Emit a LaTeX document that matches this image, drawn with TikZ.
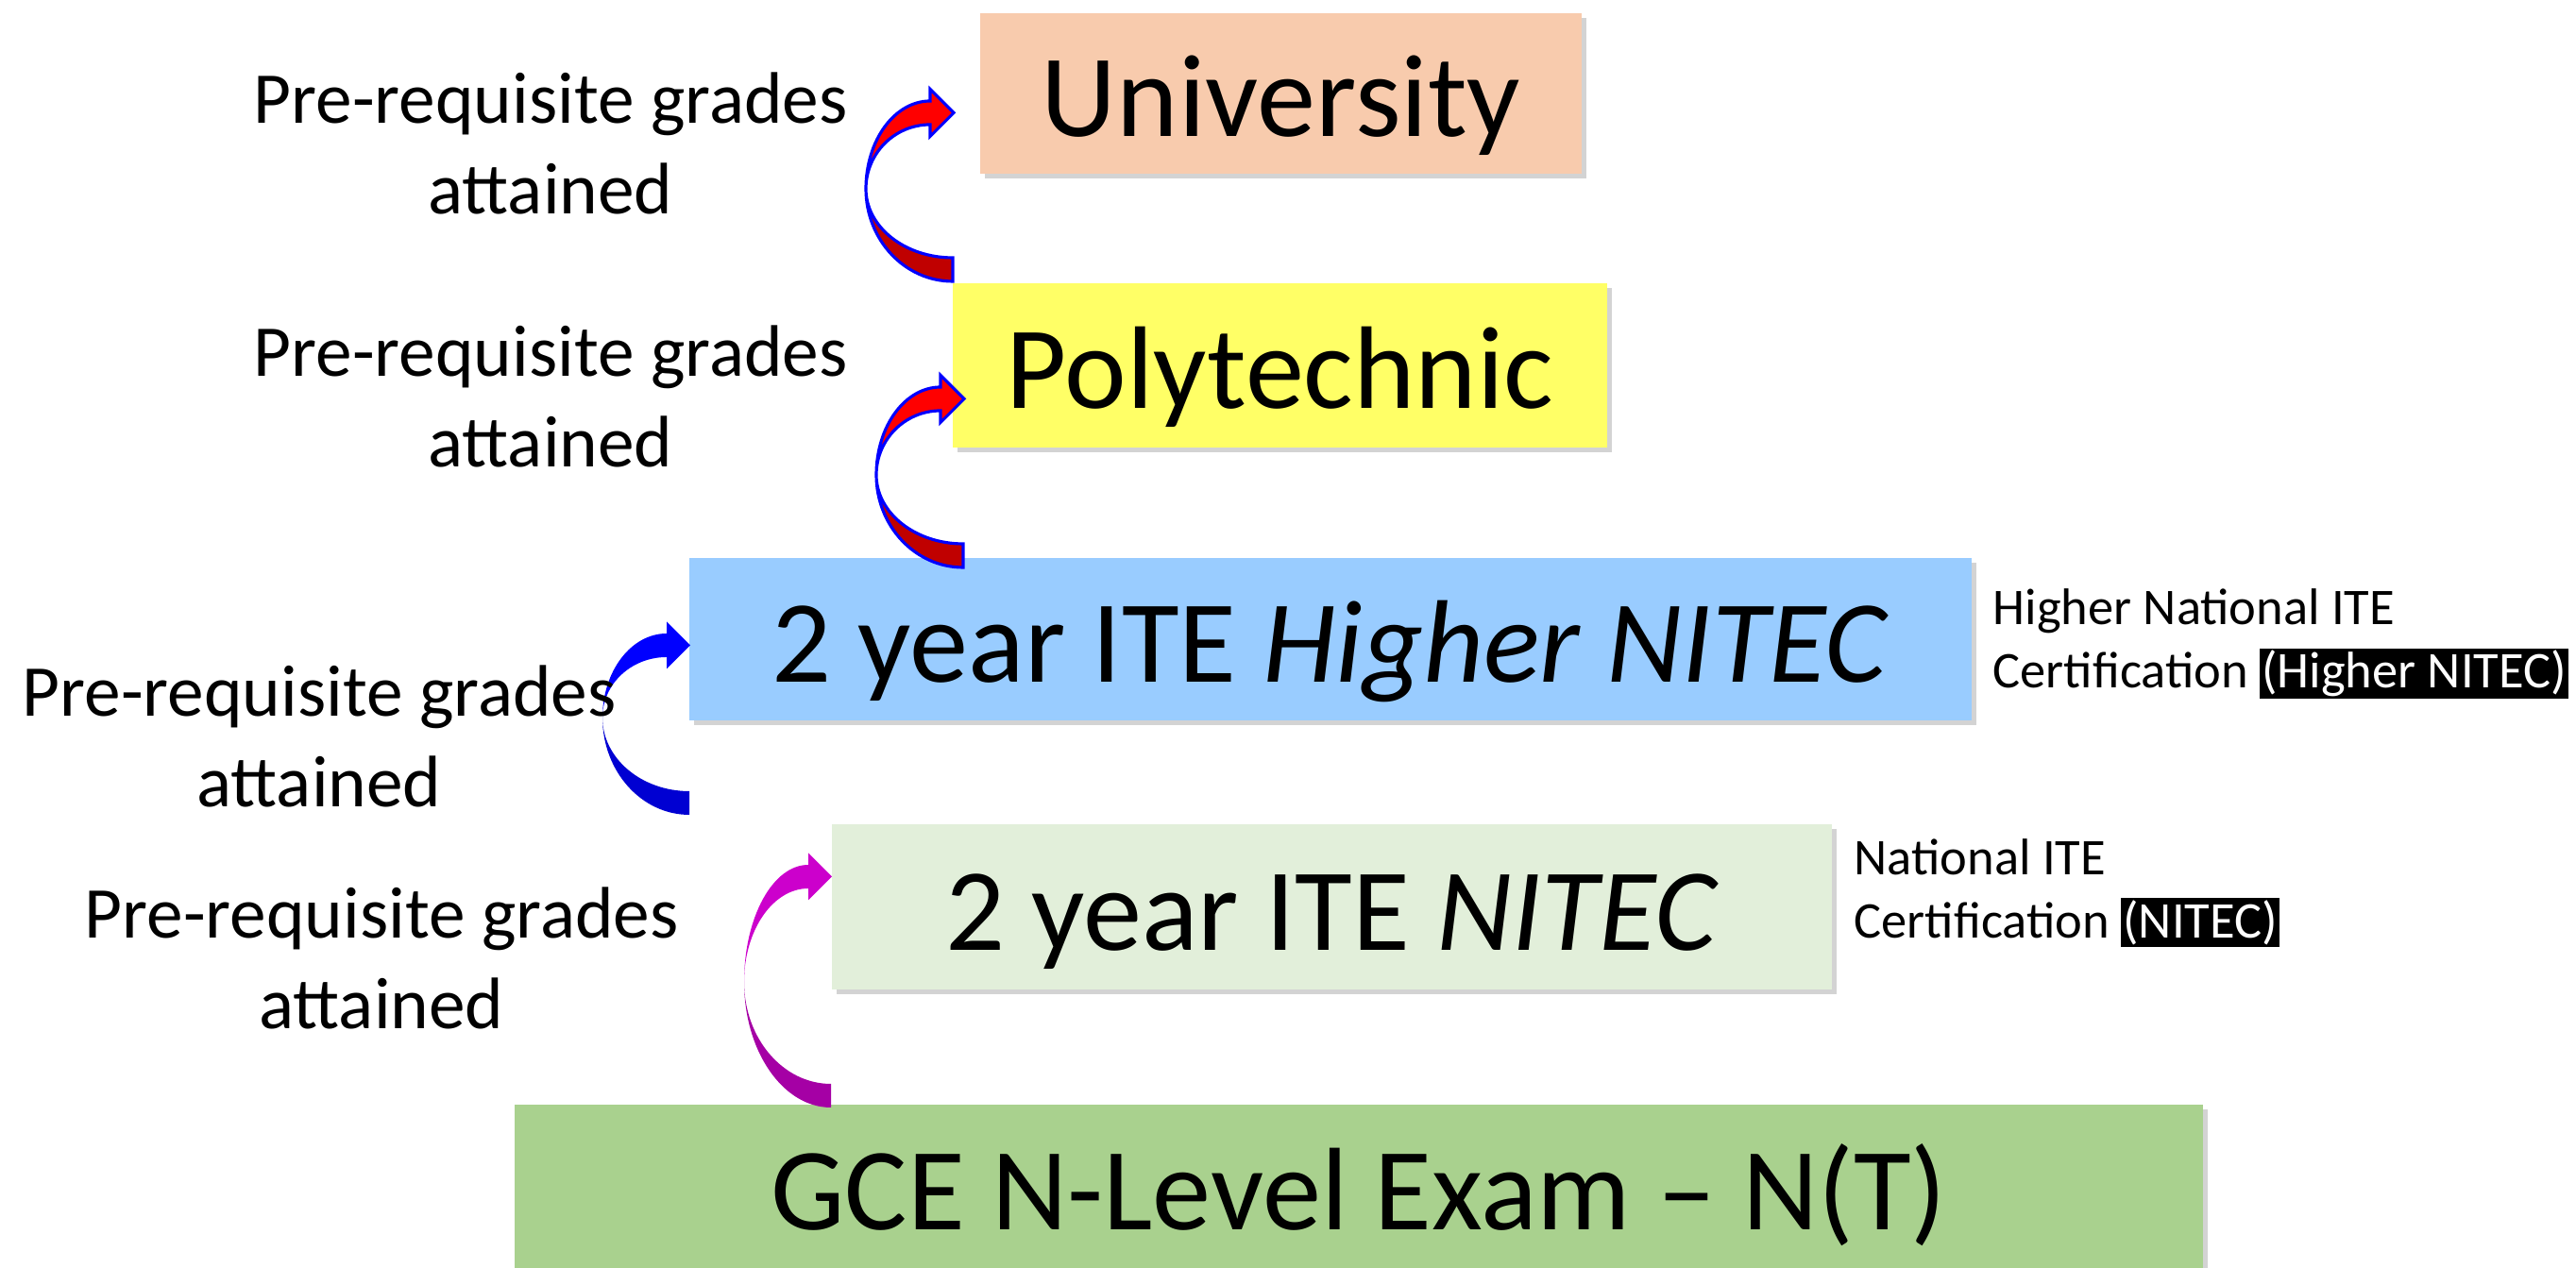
\documentclass[tikz,border=0pt]{standalone}
\usepackage{fontspec}
\setmainfont{Carlito}
\usetikzlibrary{shapes,arrows,positioning,shadows}

\definecolor{uniFill}{HTML}{F8CBAD}
\definecolor{polyFill}{HTML}{FFFF66}
\definecolor{higherFill}{HTML}{99CCFF}
\definecolor{nitecFill}{HTML}{E2EFDA}
\definecolor{gceFill}{HTML}{A9D18E}

\tikzstyle{level} = [rectangle, inner sep=0pt, text centered,
    font=\fontsize{35.4}{43}\selectfont, text height=33pt, text depth=7pt,
    drop shadow={shadow xshift=.05cm, shadow yshift=-.05cm, opacity=.35}]
\tikzstyle{prereq} = [align=center, inner sep=0pt, font=\fontsize{22}{27.5}\selectfont]
\tikzstyle{cert} = [align=left, anchor=west, inner sep=0pt, font=\fontsize{15.5}{19}\selectfont]
\tikzstyle{redFront} = [fill={rgb,255:red,255;green,0;blue,0}, draw=blue, line width=.9pt]
\tikzstyle{redBack} = [fill={rgb,255:red,192;green,0;blue,0}, draw=blue, line width=.9pt]
\tikzstyle{blueFront} = [fill={rgb,255:red,0;green,0;blue,255}]
\tikzstyle{blueBack} = [fill={rgb,255:red,0;green,0;blue,210}]
\tikzstyle{pinkFront} = [fill={rgb,255:red,204;green,0;blue,204}]
\tikzstyle{pinkBack} = [fill={rgb,255:red,165;green,0;blue,165}]

\newcommand{\hilite}[1]{{\setlength{\fboxsep}{.6pt}\colorbox{black}{\textcolor{white}{#1}}}}

% twisted ribbon arrow: #1 bend point, #2 upper radius, #3 lower radius, #4 front, #5 back
\newcommand{\ribbon}[5]{%
  \path[#5] (#1) arc[start angle=180, end angle=270, x radius=.92, y radius=#3]
    -- ++(0,.25) arc[start angle=270, end angle=180, x radius=.92, y radius=#3-.25] -- cycle;
  \path[#4] (#1) arc[start angle=180, end angle=90, x radius=.68, y radius=#2+.125]
    -- ++(0,.125) -- ++(.25,-.25) -- ++(-.25,-.25) -- ++(0,.125)
    arc[start angle=90, end angle=180, x radius=.68, y radius=#2-.125] -- cycle;
}

\begin{document}
\begin{tikzpicture}
    \useasboundingbox (0,0) rectangle (27.28,13.43);

    \node[level, fill=gceFill, minimum width=17.88cm, minimum height=1.73cm] (gce) at (14.39,0.865) {GCE N-Level Exam -- N(T)};
    \node[level, fill=nitecFill, minimum width=10.59cm, minimum height=1.75cm] (nitec) at (14.105,3.825) {2 year ITE \textit{NITEC}};
    \node[level, fill=higherFill, minimum width=13.58cm, minimum height=1.72cm] (higher) at (14.09,6.66) {2 year ITE \textit{Higher NITEC}};
    \node[level, fill=polyFill, minimum width=6.93cm, minimum height=1.74cm] (poly) at (13.555,9.56) {Polytechnic};
    \node[level, fill=uniFill, minimum width=6.37cm, minimum height=1.70cm] (uni) at (13.565,12.44) {University};

    % bends of the ribbons
    \coordinate (bendUni) at (9.17,11.43);
    \coordinate (bendPoly) at (9.28,8.40);
    \coordinate (bendHigher) at (6.38,5.83);
    \coordinate (bendNitec) at (7.88,3.03);

    \ribbon{bendUni}{.805}{.98}{redFront}{redBack}
    \ribbon{bendPoly}{.805}{.98}{redFront}{redBack}
    \ribbon{bendHigher}{.765}{1.03}{blueFront}{blueBack}
    \ribbon{bendNitec}{1.115}{1.33}{pinkFront}{pinkBack}

    \node[prereq] (toUni) at (5.83,11.91) {Pre-requisite grades\\attained};
    \node[prereq] (toPoly) at (5.83,9.23) {Pre-requisite grades\\attained};
    \node[prereq] (toHigher) at (3.38,5.63) {Pre-requisite grades\\attained};
    \node[prereq] (toNitec) at (4.04,3.28) {Pre-requisite grades\\attained};

    \node[cert] (higherCert) at (21.10,6.61) {Higher National ITE\\Certification \hilite{(Higher NITEC)}};
    \node[cert] (nitecCert) at (19.63,3.97) {National ITE\\Certification \hilite{(NITEC)}};
\end{tikzpicture}
\end{document}
